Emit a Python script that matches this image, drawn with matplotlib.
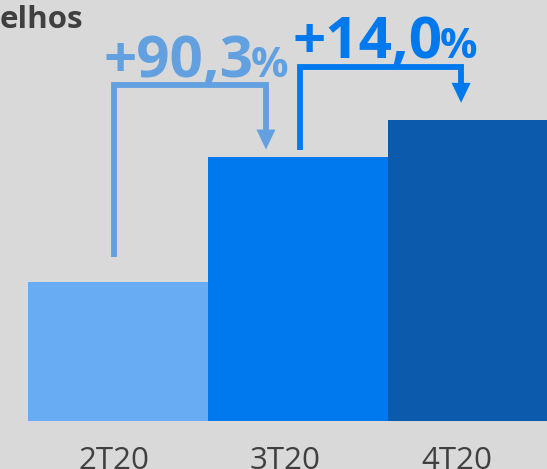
import matplotlib.pyplot as plt

quarters = ['2T20', '3T20', '4T20']
values = [100, 190.3, 216.9]          # índice relativo ao 2T20
bar_colors = ['#68acf3', '#0078ee', '#0b5aab']
growth_text = ['+90,3', '+14,0']
growth_colors = ['#62a0e0', '#0078ee']

BG = '#d9d9d9'
FONT = 'Open Sans'

fig = plt.figure(figsize=(5.47, 4.69), dpi=100)
fig.patch.set_facecolor(BG)
ax = fig.add_axes([0, 48 / 469, 1, 421 / 469])
ax.set_facecolor(BG)

ax.bar(range(len(values)), values, width=1.0, color=bar_colors)
ax.set_xlim(-0.6556, 2.3833)
ax.set_ylim(0, 302.9)
for s in ax.spines.values():
    s.set_visible(False)
ax.set_yticks([])
ax.set_xticks([-0.022, 0.928, 1.883], quarters)
ax.tick_params(axis='x', length=0, pad=18, labelsize=22.5, labelcolor='#404040')
for lbl in ax.get_xticklabels():
    lbl.set_family(FONT)

# px -> unidades de dados
px_x = 1 / 180
px_y = 1 / 1.39


def bracket(x0, y0, x1, y_top, y_tip, color):
    head_w = 9.5 * px_x
    head_l = 20 * px_y
    ax.plot([x0, x0, x1, x1], [y0, y_top, y_top, y_tip + head_l],
            color=color, lw=4.2, solid_joinstyle='miter', solid_capstyle='butt')
    ax.fill([x1 - head_w, x1 + head_w, x1], [y_tip + head_l, y_tip + head_l, y_tip],
            color=color, lw=0)


bracket(-0.02, values[0] + 18, 0.822, 241.7, values[1] + 5, growth_colors[0])
bracket(1.011, values[1] + 5, 1.906, 254.7, values[2] + 12, growth_colors[1])

# rótulos de crescimento
ax.text(-0.083, 247.5, growth_text[0], fontsize=42, fontweight='bold', family=FONT,
        color=growth_colors[0], ha='left', va='baseline')
ax.text(0.735, 247.5, '%', fontsize=30, fontweight='bold', family=FONT,
        color=growth_colors[0], ha='left', va='baseline')
ax.text(0.972, 261.2, growth_text[1], fontsize=42, fontweight='bold', family=FONT,
        color=growth_colors[1], ha='left', va='baseline')
ax.text(1.79, 261.2, '%', fontsize=30, fontweight='bold', family=FONT,
        color=growth_colors[1], ha='left', va='baseline')

fig.text(0, 1 - 28 / 469, 'elhos', fontsize=22.5, fontweight='bold', family=FONT,
         color='#404040', ha='left', va='baseline')

fig.savefig('out.png', dpi=100, facecolor=BG)
